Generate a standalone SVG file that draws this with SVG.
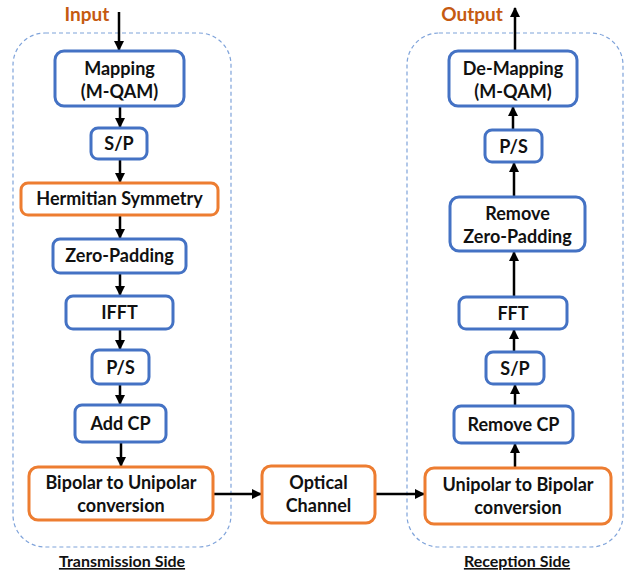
<svg xmlns="http://www.w3.org/2000/svg" width="626" height="574" viewBox="0 0 626 574">
  <style>
    .zone { fill: none; stroke: #7FA3DA; stroke-width: 1.2; stroke-dasharray: 4 3; }
    .blue { fill: #FFFFFF; stroke: #4472C4; stroke-width: 3; }
    .orange { fill: #FFFFFF; stroke: #ED7D31; stroke-width: 3; }
    .lbl { font-family: Lato, "Open Sans", sans-serif; font-weight: bold; font-size: 18px; fill: #111111; text-anchor: middle; }
    .io { font-family: Lato, "Open Sans", sans-serif; font-weight: bold; font-size: 19px; fill: #C55A11; text-anchor: middle; }
    .side { font-family: Lato, "Open Sans", sans-serif; font-weight: bold; font-size: 16px; fill: #111111; text-anchor: middle; text-decoration: underline; }
    .wire { stroke: #000000; stroke-width: 2.5; fill: none; marker-end: url(#head); }
  </style>
  <defs>
    <marker id="head" viewBox="0 0 10 10" refX="9" refY="5" markerWidth="4" markerHeight="4" orient="auto" markerUnits="strokeWidth">
      <path d="M0,0 L10,5 L0,10 z" fill="#000000"/>
    </marker>
  </defs>

  <rect width="626" height="574" fill="#FFFFFF"/>

  <!-- dashed side containers -->
  <rect class="zone" x="13" y="33" width="218" height="514" rx="32"/>
  <rect class="zone" x="407" y="33" width="216" height="514" rx="32"/>

  <text class="io" x="87" y="21">Input</text>
  <text class="io" x="472" y="21">Output</text>
  <text class="side" x="122" y="567">Transmission Side</text>
  <text class="side" x="517" y="567">Reception Side</text>

  <!-- connectors -->
  <g id="connectors">
    <line class="wire" x1="119" y1="12" x2="119" y2="50"/>
    <line class="wire" x1="120" y1="106" x2="120" y2="127"/>
    <line class="wire" x1="120" y1="159" x2="120" y2="182"/>
    <line class="wire" x1="120" y1="215" x2="120" y2="238"/>
    <line class="wire" x1="120" y1="273" x2="120" y2="295"/>
    <line class="wire" x1="120" y1="329" x2="120" y2="349"/>
    <line class="wire" x1="120" y1="384" x2="120" y2="404"/>
    <line class="wire" x1="121" y1="442" x2="121" y2="466"/>
    <line class="wire" x1="213" y1="494" x2="261" y2="494"/>
    <line class="wire" x1="375" y1="494" x2="424" y2="494"/>
    <line class="wire" x1="515" y1="468" x2="515" y2="444"/>
    <line class="wire" x1="515" y1="406" x2="515" y2="385"/>
    <line class="wire" x1="514" y1="352" x2="514" y2="330"/>
    <line class="wire" x1="514" y1="297" x2="514" y2="252"/>
    <line class="wire" x1="514" y1="197" x2="514" y2="163"/>
    <line class="wire" x1="513" y1="130" x2="513" y2="107"/>
    <line class="wire" x1="515" y1="51" x2="515" y2="8"/>
  </g>

  <!-- transmission side -->
  <g id="mapping">
    <rect class="blue" x="55" y="51" width="129" height="55" rx="9"/>
    <text class="lbl" x="119.5" y="75">Mapping</text>
    <text class="lbl" x="119.5" y="98">(M-QAM)</text>
  </g>
  <g id="tx-sp">
    <rect class="blue" x="91" y="128" width="56" height="31" rx="7"/>
    <text class="lbl" x="119" y="150">S/P</text>
  </g>
  <g id="hermitian">
    <rect class="orange" x="21" y="183" width="197" height="32" rx="7"/>
    <text class="lbl" x="119.5" y="205">Hermitian Symmetry</text>
  </g>
  <g id="zero-padding">
    <rect class="blue" x="53" y="239" width="133" height="34" rx="7"/>
    <text class="lbl" x="119.5" y="262">Zero-Padding</text>
  </g>
  <g id="ifft">
    <rect class="blue" x="66" y="296" width="107" height="33" rx="7"/>
    <text class="lbl" x="119.5" y="319">IFFT</text>
  </g>
  <g id="tx-ps">
    <rect class="blue" x="92" y="350" width="57" height="34" rx="7"/>
    <text class="lbl" x="120.5" y="374">P/S</text>
  </g>
  <g id="add-cp">
    <rect class="blue" x="75" y="405" width="91" height="37" rx="7"/>
    <text class="lbl" x="120.5" y="430">Add CP</text>
  </g>
  <g id="bipolar-unipolar">
    <rect class="orange" x="29" y="467" width="184" height="53" rx="9"/>
    <text class="lbl" x="121" y="489">Bipolar to Unipolar</text>
    <text class="lbl" x="121" y="512">conversion</text>
  </g>

  <!-- channel -->
  <g id="optical-channel">
    <rect class="orange" x="262" y="466" width="113" height="57" rx="9"/>
    <text class="lbl" x="318.5" y="489">Optical</text>
    <text class="lbl" x="318.5" y="512">Channel</text>
  </g>

  <!-- reception side -->
  <g id="unipolar-bipolar">
    <rect class="orange" x="425" y="468" width="186" height="56" rx="9"/>
    <text class="lbl" x="518" y="491">Unipolar to Bipolar</text>
    <text class="lbl" x="518" y="514">conversion</text>
  </g>
  <g id="remove-cp">
    <rect class="blue" x="454" y="406" width="119" height="37" rx="7"/>
    <text class="lbl" x="513.5" y="431">Remove CP</text>
  </g>
  <g id="rx-sp">
    <rect class="blue" x="486" y="352" width="58" height="32" rx="7"/>
    <text class="lbl" x="515" y="375">S/P</text>
  </g>
  <g id="fft">
    <rect class="blue" x="459" y="297" width="108" height="32" rx="7"/>
    <text class="lbl" x="513" y="320">FFT</text>
  </g>
  <g id="remove-zero-padding">
    <rect class="blue" x="450" y="197" width="135" height="54" rx="9"/>
    <text class="lbl" x="517.5" y="220">Remove</text>
    <text class="lbl" x="517.5" y="243">Zero-Padding</text>
  </g>
  <g id="rx-ps">
    <rect class="blue" x="485" y="130" width="57" height="32" rx="7"/>
    <text class="lbl" x="513.5" y="153">P/S</text>
  </g>
  <g id="demapping">
    <rect class="blue" x="449" y="51" width="128" height="55" rx="9"/>
    <text class="lbl" x="513" y="75">De-Mapping</text>
    <text class="lbl" x="513" y="98">(M-QAM)</text>
  </g>
</svg>
